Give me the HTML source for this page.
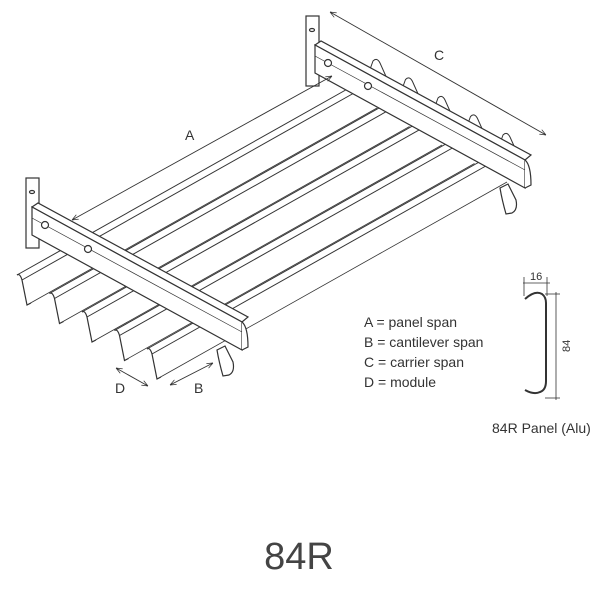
<!DOCTYPE html>
<html><head><meta charset="utf-8"><style>
html,body{margin:0;padding:0;background:#fff;width:600px;height:600px;overflow:hidden}
svg{display:block}
text{font-family:"Liberation Sans Narrow","Liberation Sans",sans-serif;fill:#333}
</style></head><body>
<svg width="600" height="600" viewBox="0 0 600 600" xmlns="http://www.w3.org/2000/svg">
<defs>
<marker id="ar" viewBox="0 0 10 10" refX="10" refY="5" markerWidth="7" markerHeight="7" orient="auto-start-reverse"><path d="M0,1 L10,5 L0,9" fill="none" stroke="#333" stroke-width="1.2"/></marker>
<g id="panel" fill="none" stroke="#333" stroke-width="1">
  <path d="M364,86 L373,61 Q377,57 380,63 L393,92" fill="#fff"/>
  <path d="M17,275 L367,78" />
  <path d="M22,280 L370,84" />
  <path d="M27,305 L377,108" stroke-width="0.8"/>
  <path d="M17,275 Q20,273 22,280 Q25,295 27,305 L31,303" stroke-width="1.2"/>
</g>
</defs>
<g>
<use href="#panel" transform="translate(130,74)"/>
<use href="#panel" transform="translate(97.5,55.5)"/>
<use href="#panel" transform="translate(65,37)"/>
<use href="#panel" transform="translate(32.5,18.5)"/>
<use href="#panel" transform="translate(0,0)"/>
</g>
<g stroke="#333" stroke-width="1.2" fill="#fff">
<rect x="306" y="16" width="13" height="70"/>
<ellipse cx="312" cy="30" rx="2.5" ry="1.5" fill="none"/>
<polygon points="315,45 321,41 531,155 525,160"/>
<polygon points="315,45 525,160 525,188 315,73"/>
<path d="M525,160 Q531,165 531,185 L525,188" />
<line x1="315" y1="56" x2="525" y2="170" stroke-width="0.7"/>
<circle cx="328" cy="63" r="3.5"/><circle cx="368" cy="86" r="3.5"/>
<path d="M500,188 L508,184 L516,200 Q518,210 512,213 L506,214 Q502,200 500,188Z"/>
</g>
<g stroke="#333" stroke-width="1.2" fill="#fff">
<rect x="26" y="178" width="13" height="70"/>
<ellipse cx="32" cy="192" rx="2.5" ry="1.5" fill="none"/>
<polygon points="32,207 38,203 248,317 242,322"/>
<polygon points="32,207 242,322 242,350 32,235"/>
<path d="M242,322 Q248,327 248,347 L242,350" />
<line x1="32" y1="218" x2="242" y2="332" stroke-width="0.7"/>
<circle cx="45" cy="225" r="3.5"/><circle cx="88" cy="249" r="3.5"/>
<path d="M217,350 L225,346 L233,362 Q235,372 229,375 L223,376 Q219,362 217,350Z"/>
</g>
<g stroke="#333" stroke-width="0.9" fill="none">
<line x1="72" y1="220" x2="332" y2="76" marker-start="url(#ar)" marker-end="url(#ar)"/>
<line x1="330" y1="12" x2="546" y2="135" marker-start="url(#ar)" marker-end="url(#ar)"/>
<line x1="116" y1="368" x2="148" y2="386" marker-start="url(#ar)" marker-end="url(#ar)"/>
<line x1="170" y1="385" x2="213" y2="363" marker-start="url(#ar)" marker-end="url(#ar)"/>
</g>
<text x="185" y="140" font-size="14">A</text>
<text x="434" y="60" font-size="14">C</text>
<text x="115" y="393" font-size="14">D</text>
<text x="194" y="393" font-size="14">B</text>
<g font-size="14">
<text x="364" y="327">A = panel span</text>
<text x="364" y="347">B = cantilever span</text>
<text x="364" y="367">C = carrier span</text>
<text x="364" y="387">D = module</text>
</g>
<g stroke="#333" fill="none">
<path d="M525,299 Q535,290 542,294 Q546,297 546,303 L546,381 Q546,390 540,392 Q534,395 525,390" stroke-width="2"/>
<line x1="523" y1="283" x2="550" y2="283" stroke-width="0.8"/>
<line x1="524" y1="277" x2="524" y2="296" stroke-width="0.8"/>
<line x1="547" y1="277" x2="547" y2="296" stroke-width="0.8"/>
<line x1="556" y1="292" x2="556" y2="400" stroke-width="0.8"/>
<line x1="545" y1="294" x2="560" y2="294" stroke-width="0.8"/>
<line x1="545" y1="398" x2="560" y2="398" stroke-width="0.8"/>
</g>
<text x="530" y="280" font-size="11">16</text>
<text x="0" y="0" font-size="11" transform="translate(570,352) rotate(-90)">84</text>
<text x="492" y="433" font-size="14">84R Panel (Alu)</text>
<text x="299" y="569" font-size="38" text-anchor="middle" style="font-family:'Liberation Sans',sans-serif;fill:#444">84R</text>
</svg>
</body></html>
